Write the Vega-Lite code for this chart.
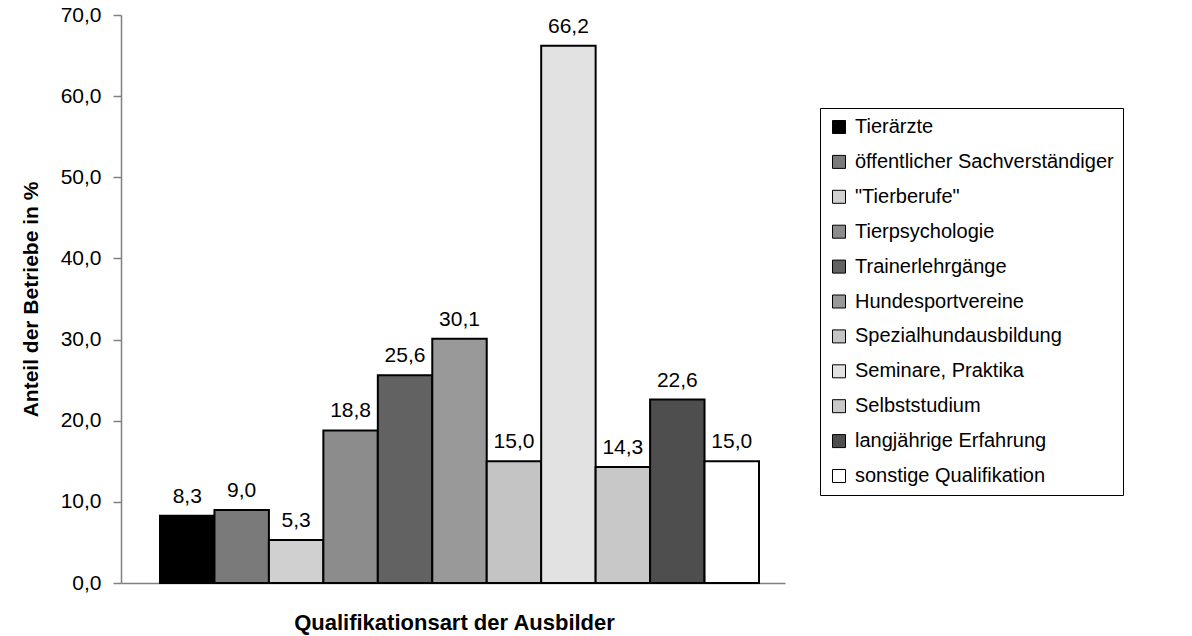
{
  "$schema": "https://vega.github.io/schema/vega-lite/v6.json",
  "width": 664,
  "height": 568,
  "autosize": {"type": "none"},
  "padding": {"left": 121, "top": 15, "right": 407, "bottom": 53},
  "background": "white",
  "config": {
    "view": {"stroke": null},
    "font": "Liberation Sans",
    "locale": {"number": {"decimal": ",", "thousands": ".", "grouping": [3], "currency": ["", " €"]}}
  },
  "data": {
    "values": [
      {"Qualifikation": "Tierärzte", "Anteil": 8.3},
      {"Qualifikation": "öffentlicher Sachverständiger", "Anteil": 9.0},
      {"Qualifikation": "\"Tierberufe\"", "Anteil": 5.3},
      {"Qualifikation": "Tierpsychologie", "Anteil": 18.8},
      {"Qualifikation": "Trainerlehrgänge", "Anteil": 25.6},
      {"Qualifikation": "Hundesportvereine", "Anteil": 30.1},
      {"Qualifikation": "Spezialhundausbildung", "Anteil": 15.0},
      {"Qualifikation": "Seminare, Praktika", "Anteil": 66.2},
      {"Qualifikation": "Selbststudium", "Anteil": 14.3},
      {"Qualifikation": "langjährige Erfahrung", "Anteil": 22.6},
      {"Qualifikation": "sonstige Qualifikation", "Anteil": 15.0}
    ]
  },
  "encoding": {
    "x": {
      "field": "Qualifikation",
      "type": "nominal",
      "sort": null,
      "scale": {"paddingInner": 0, "paddingOuter": 0.597, "align": 0.6},
      "axis": {
        "title": "Qualifikationsart der Ausbilder",
        "titleFont": "Liberation Sans",
        "titleFontSize": 22,
        "titleFontWeight": "bold",
        "titleColor": "black",
        "titleX": 333,
        "titleY": 39,
        "titleBaseline": "middle",
        "labels": false,
        "ticks": false,
        "domainColor": "#808080",
        "domainWidth": 1.5
      }
    },
    "y": {
      "field": "Anteil",
      "type": "quantitative",
      "scale": {"domain": [0, 70], "nice": false},
      "axis": {
        "title": "Anteil der Betriebe in %",
        "titleFont": "Liberation Sans",
        "titleFontSize": 21,
        "titleFontWeight": "bold",
        "titleColor": "black",
        "titlePadding": 19,
        "values": [0, 10, 20, 30, 40, 50, 60, 70],
        "format": ".1f",
        "labelFontSize": 21,
        "labelColor": "black",
        "labelPadding": 12,
        "tickSize": 8,
        "tickColor": "#808080",
        "tickWidth": 1.5,
        "domainColor": "#808080",
        "domainWidth": 1.5,
        "grid": false
      }
    }
  },
  "layer": [
    {
      "mark": {"type": "bar", "stroke": "black", "strokeWidth": 2},
      "encoding": {
        "fill": {
          "field": "Qualifikation",
          "type": "nominal",
          "sort": null,
          "scale": {
            "domain": ["Tierärzte", "öffentlicher Sachverständiger", "\"Tierberufe\"", "Tierpsychologie", "Trainerlehrgänge", "Hundesportvereine", "Spezialhundausbildung", "Seminare, Praktika", "Selbststudium", "langjährige Erfahrung", "sonstige Qualifikation"],
            "range": ["#000000", "#7a7a7a", "#d0d0d0", "#8c8c8c", "#626262", "#999999", "#c4c4c4", "#e2e2e2", "#c8c8c8", "#4e4e4e", "#ffffff"]
          },
          "legend": {
            "title": null,
            "orient": "none",
            "legendX": 699,
            "legendY": 93,
            "symbolType": "square",
            "symbolSize": 169,
            "symbolStrokeColor": "black",
            "symbolStrokeWidth": 1,
            "labelFontSize": 20,
            "labelColor": "black",
            "labelOffset": 6,
            "labelLimit": 400,
            "rowPadding": 14.9,
            "padding": 9,
            "strokeColor": "black",
            "fillColor": "white"
          }
        }
      }
    },
    {
      "mark": {"type": "text", "fontSize": 21, "color": "black", "baseline": "alphabetic", "dy": -13},
      "encoding": {
        "text": {"field": "Anteil", "type": "quantitative", "format": ".1f"}
      }
    }
  ]
}
